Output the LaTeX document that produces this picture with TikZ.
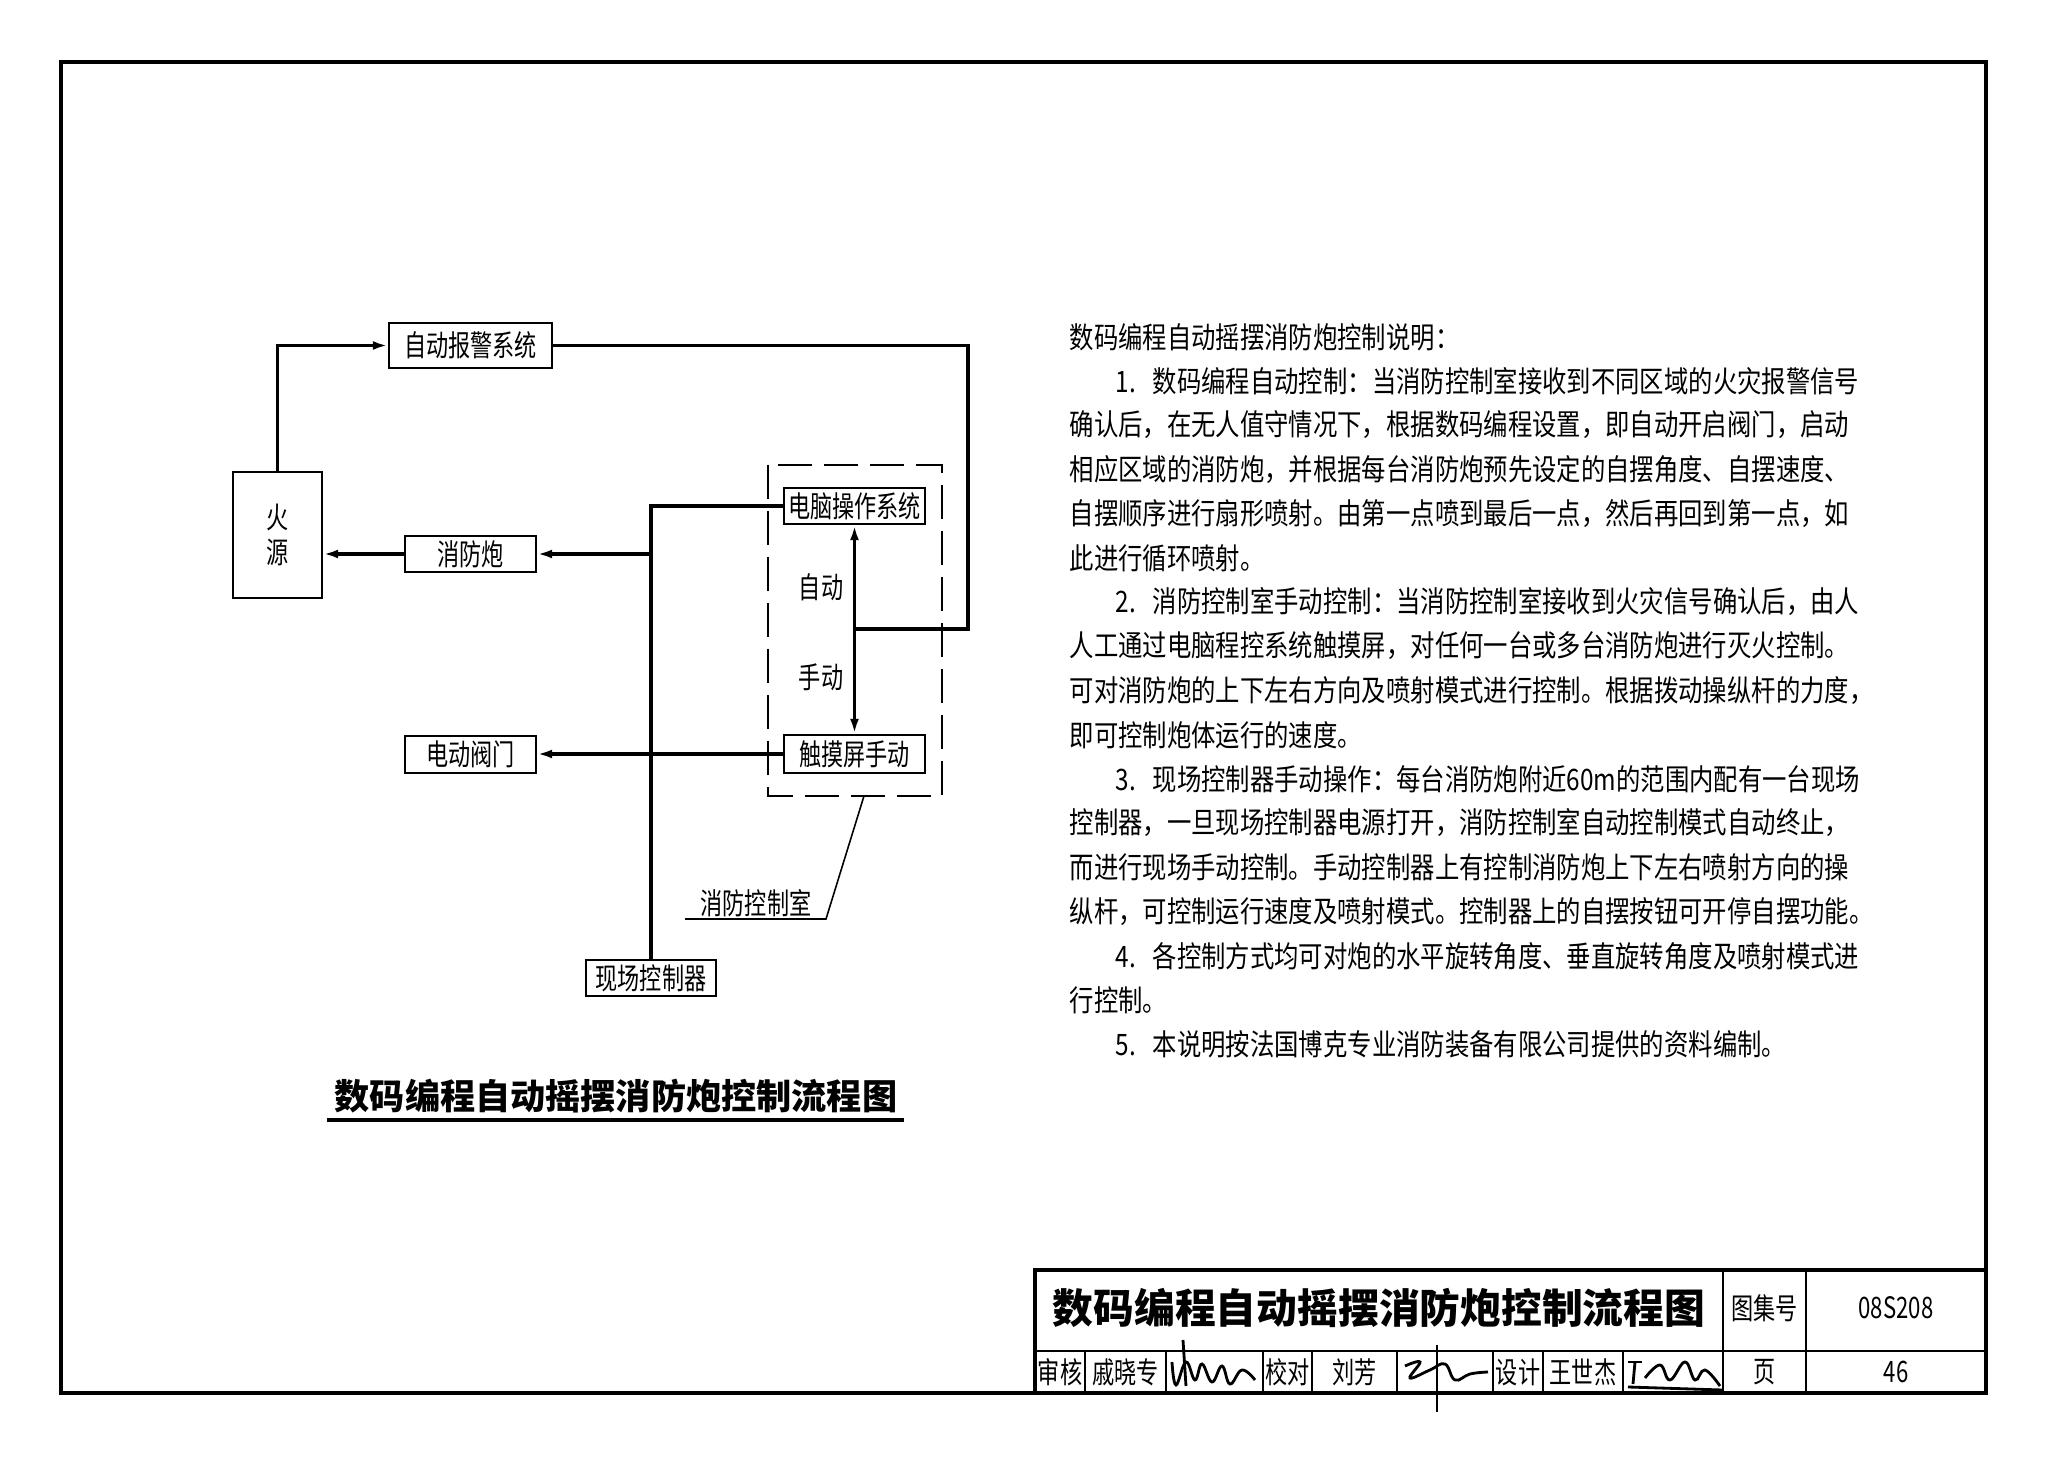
\documentclass[tikz,border=0pt]{standalone}
\usepackage{fontspec}
\setmainfont{Noto Sans CJK SC}
\usetikzlibrary{arrows.meta}
\def\nar#1{\scalebox{0.825}[1]{#1}}
\def\nbx#1{\scalebox{0.75}[1]{#1}}
\def\num#1{\makebox[0.45cm][l]{#1}}

\begin{document}
\begin{tikzpicture}[x=1cm, y=-1cm,
	box/.style={draw, line width=0.7pt, inner sep=0pt, font=\fontsize{8.4}{10.2}\selectfont},
	wire/.style={line width=0.9pt},
	flow/.style={wire, -{Latex[length=1.5mm,width=0.9mm]}},
	txt/.style={anchor=west, inner sep=0pt, font=\fontsize{8.4}{10}\selectfont},
	cell/.style={inner sep=0pt, font=\fontsize{8.4}{10}\selectfont}]
			%%%%% START %%%%%
			\useasboundingbox (0, 0) rectangle (20.48, 14.70);
			
			\draw[line width=1.2pt] (0.61, 0.62) rectangle (19.86, 13.93);
			
			% flow chart
			\node[box, minimum width=1.63cm, minimum height=0.45cm] (alarm) at (4.705, 3.455) {\nbx{自动报警系统}};
			\node[box, minimum width=0.89cm, minimum height=1.26cm, align=center] (fire) at (2.775, 5.35) {\nbx{火}\\\nbx{源}};
			\node[box, minimum width=1.31cm, minimum height=0.36cm] (cannon) at (4.705, 5.54) {\nbx{消防炮}};
			\node[box, minimum width=1.31cm, minimum height=0.37cm] (valve) at (4.705, 7.545) {\nbx{电动阀门}};
			\node[box, minimum width=1.30cm, minimum height=0.36cm] (field) at (6.51, 9.78) {\nbx{现场控制器}};
			\node[box, minimum width=1.41cm, minimum height=0.36cm] (pc) at (8.545, 5.06) {\nbx{电脑操作系统}};
			\node[box, minimum width=1.41cm, minimum height=0.38cm] (touch) at (8.545, 7.54) {\nbx{触摸屏手动}};
			
			\draw[line width=0.6pt, dash pattern=on 0.34cm off 0.12cm] (7.68, 4.65) rectangle (9.42, 7.96);
			
			\coordinate (tap) at (8.545, 6.29);
			\coordinate (ring) at (9.68, 6.29);
			\coordinate (bus) at (field.north |- cannon.east);
			
			\draw[flow] (fire.north) |- (alarm.west);
			\draw[wire] (alarm.east) -| (ring) -- (tap);
			\draw[flow] (tap) -- (pc.south);
			\draw[flow] (tap) -- (touch.north);
			\draw[wire] (pc.west) -| (field.north);
			\draw[flow] (bus) -- (cannon.east);
			\draw[flow] (cannon.west) -- (cannon.west -| fire.east);
			\draw[flow] (touch.west) -- (touch.west -| valve.east);
			
			\node[cell] (auto) at (8.21, 5.87) {\nbx{自动}};
			\node[cell] (hand) at (8.21, 6.77) {\nbx{手动}};
			
			\node[cell] (room) at (7.56, 9.03) {\nbx{消防控制室}};
			\draw[line width=0.45pt] (8.64, 7.96) -- (8.26, 9.19) -- (6.85, 9.19);
			
			\node[inner sep=0pt, font=\fontsize{10}{12}\selectfont\bfseries] (title) at (6.16, 10.96) {数码编程自动摇摆消防炮控制流程图};
			\draw[line width=1.4pt] (3.27, 11.20) -- (9.04, 11.20);
			
			% notes
			\node[txt] (l0) at (10.69, 3.37) {\nar{数码编程自动摇摆消防炮控制说明：}};
			\node[txt] (l1) at (11.15, 3.81) {\nar{\num{1.}数码编程自动控制：当消防控制室接收到不同区域的火灾报警信号}};
			\node[txt] (l2) at (10.69, 4.25) {\nar{确认后，在无人值守情况下，根据数码编程设置，即自动开启阀门，启动}};
			\node[txt] (l3) at (10.69, 4.70) {\nar{相应区域的消防炮，并根据每台消防炮预先设定的自摆角度、自摆速度、}};
			\node[txt] (l4) at (10.69, 5.14) {\nar{自摆顺序进行扇形喷射。由第一点喷到最后一点，然后再回到第一点，如}};
			\node[txt] (l5) at (10.69, 5.58) {\nar{此进行循环喷射。}};
			\node[txt] (l6) at (11.15, 6.02) {\nar{\num{2.}消防控制室手动控制：当消防控制室接收到火灾信号确认后，由人}};
			\node[txt] (l7) at (10.69, 6.46) {\nar{人工通过电脑程控系统触摸屏，对任何一台或多台消防炮进行灭火控制。}};
			\node[txt] (l8) at (10.69, 6.91) {\nar{可对消防炮的上下左右方向及喷射模式进行控制。根据拨动操纵杆的力度，}};
			\node[txt] (l9) at (10.69, 7.35) {\nar{即可控制炮体运行的速度。}};
			\node[txt] (l10) at (11.15, 7.79) {\nar{\num{3.}现场控制器手动操作：每台消防炮附近60m的范围内配有一台现场}};
			\node[txt] (l11) at (10.69, 8.23) {\nar{控制器，一旦现场控制器电源打开，消防控制室自动控制模式自动终止，}};
			\node[txt] (l12) at (10.69, 8.67) {\nar{而进行现场手动控制。手动控制器上有控制消防炮上下左右喷射方向的操}};
			\node[txt] (l13) at (10.69, 9.12) {\nar{纵杆，可控制运行速度及喷射模式。控制器上的自摆按钮可开停自摆功能。}};
			\node[txt] (l14) at (11.15, 9.56) {\nar{\num{4.}各控制方式均可对炮的水平旋转角度、垂直旋转角度及喷射模式进}};
			\node[txt] (l15) at (10.69, 10.00) {\nar{行控制。}};
			\node[txt] (l16) at (11.15, 10.44) {\nar{\num{5.}本说明按法国博克专业消防装备有限公司提供的资料编制。}};
			
			% title block
			\draw[line width=0.9pt] (10.35, 12.70) rectangle (19.86, 13.93);
			\draw[line width=0.6pt] (10.35, 13.51) -- (19.86, 13.51);
			\draw[line width=0.6pt] (17.23, 12.70) -- (17.23, 13.93);
			\draw[line width=0.6pt] (18.06, 12.70) -- (18.06, 13.93);
			\draw[line width=0.6pt] (10.85, 13.51) -- (10.85, 13.93);
			\draw[line width=0.6pt] (11.66, 13.51) -- (11.66, 13.93);
			\draw[line width=0.6pt] (12.63, 13.51) -- (12.63, 13.93);
			\draw[line width=0.6pt] (13.12, 13.51) -- (13.12, 13.93);
			\draw[line width=0.6pt] (13.97, 13.51) -- (13.97, 13.93);
			\draw[line width=0.6pt] (14.93, 13.51) -- (14.93, 13.93);
			\draw[line width=0.6pt] (15.43, 13.51) -- (15.43, 13.93);
			\draw[line width=0.6pt] (16.23, 13.51) -- (16.23, 13.93);
			
			\node[inner sep=0pt, font=\fontsize{11.6}{14}\selectfont\bfseries] (sheet) at (13.79, 13.08) {数码编程自动摇摆消防炮控制流程图};
			\node[cell] (atlas) at (17.645, 13.08) {\nbx{图集号}};
			\node[cell] (atlasno) at (18.96, 13.08) {\nbx{08S208}};
			\node[cell] (page) at (17.645, 13.72) {\nbx{页}};
			\node[cell] (pageno) at (18.96, 13.72) {\nbx{46}};
			\node[cell] (check) at (10.60, 13.72) {\nbx{审核}};
			\node[cell] (checker) at (11.255, 13.72) {\nbx{戚晓专}};
			\node[cell] (proof) at (12.875, 13.72) {\nbx{校对}};
			\node[cell] (proofer) at (13.545, 13.72) {\nbx{刘芳}};
			\node[cell] (design) at (15.18, 13.72) {\nbx{设计}};
			\node[cell] (designer) at (15.83, 13.72) {\nbx{王世杰}};
			
			% signatures
			\draw[line width=0.8pt] (11.83, 13.40) -- (11.86, 13.86);
			\draw[line width=0.8pt] plot[smooth, tension=0.7] coordinates {(11.72, 13.62) (11.76, 13.85) (11.86, 13.62) (11.95, 13.80) (12.02, 13.64) (12.12, 13.82) (12.22, 13.66) (12.30, 13.84) (12.42, 13.70) (12.55, 13.80)};
			\draw[line width=0.8pt] (14.37, 13.45) -- (14.37, 14.12);
			\draw[line width=0.8pt] plot[smooth, tension=0.7] coordinates {(14.05, 13.66) (14.20, 13.62) (14.10, 13.78) (14.30, 13.70) (14.45, 13.64) (14.55, 13.80) (14.70, 13.74) (14.88, 13.72)};
			\draw[line width=0.8pt] (16.28, 13.62) -- (16.42, 13.62);
			\draw[line width=0.8pt] (16.35, 13.62) -- (16.33, 13.84);
			\draw[line width=0.8pt] plot[smooth, tension=0.7] coordinates {(16.45, 13.78) (16.60, 13.65) (16.70, 13.80) (16.85, 13.62) (16.95, 13.80) (17.05, 13.70) (17.20, 13.86)};
			\draw[line width=0.8pt] (16.28, 13.87) -- (17.22, 13.90);
			
			%%%%% END %%%%%
\end{tikzpicture}
\end{document}
